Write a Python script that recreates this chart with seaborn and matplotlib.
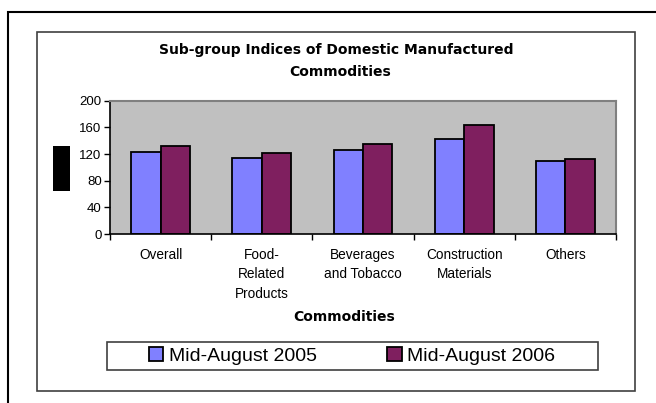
import matplotlib
matplotlib.use("Agg")
import matplotlib.pyplot as plt
import matplotlib.patches as mpatches
import seaborn as sns
import pandas as pd

categories = ["Overall", "Food-\nRelated\nProducts", "Beverages\nand Tobacco",
              "Construction\nMaterials", "Others"]
series = ["Mid-August 2005", "Mid-August 2006"]
values_2005 = [123.5, 114.5, 126, 143, 109.5]
values_2006 = [132, 121, 135, 163.5, 112.5]
yticks = [0, 40, 80, 120, 160, 200]

df = pd.DataFrame({
    "Commodity": categories * 2,
    "Period": [series[0]] * 5 + [series[1]] * 5,
    "Index": values_2005 + values_2006,
})

sns.set_style("white")
plt.rcParams["font.family"] = ["Liberation Sans", "DejaVu Sans"]
plt.rcParams["text.color"] = "black"
plt.rcParams["xtick.labelcolor"] = "black"
plt.rcParams["ytick.labelcolor"] = "black"

W, H = 656, 403
fig = plt.figure(figsize=(W / 100, H / 100), dpi=100)
ax = fig.add_axes([110 / W, 1 - 234 / H, 506 / W, 133.3 / H])

sns.barplot(
    data=df, x="Commodity", y="Index", hue="Period",
    palette=["#8080FF", "#7F1F5F"], width=0.58,
    edgecolor="black", linewidth=1.3, saturation=1, ax=ax,
)
ax.set_facecolor("#C0C0C0")
ax.set_ylim(0, 200)
ax.set_xlim(-0.5, len(categories) - 0.5)
ax.set_yticks(yticks)
ax.set_yticklabels([str(v) for v in yticks], fontsize=9.5)
ax.tick_params(axis="y", length=4, width=1, color="black", left=True, pad=2)
ax.tick_params(axis="x", which="major", length=0, pad=10)
ax.set_xticks([i + 0.5 for i in range(-1, len(categories))], minor=True)
ax.tick_params(axis="x", which="minor", length=4, width=1, color="black", bottom=True)
for lab in ax.get_xticklabels():
    lab.set_fontsize(9.8)
    lab.set_linespacing(1.5)
    lab.set_verticalalignment("top")
ax.set_xlabel("")
ax.set_ylabel("")
for side in ["left", "bottom"]:
    ax.spines[side].set_color("black")
    ax.spines[side].set_linewidth(1.2)
for side in ["top", "right"]:
    ax.spines[side].set_color("#808080")
    ax.spines[side].set_linewidth(1.5)
ax.get_legend().remove()

# titles
title_font = dict(family="DejaVu Sans", fontsize=10, fontweight="bold", color="black")
fig.text(336 / W, 1 - 50 / H, "Sub-group Indices of Domestic Manufactured",
         ha="center", va="center", **title_font)
fig.text(340 / W, 1 - 72 / H, "Commodities",
         ha="center", va="center", **title_font)
fig.text(344 / W, 1 - 317 / H, "Commodities",
         ha="center", va="center", **title_font)

# legend (frame drawn separately to match the wide box)
handles = [mpatches.Patch(facecolor=c, edgecolor="black", linewidth=1.3)
           for c in ["#8080FF", "#7F1F5F"]]
fig.legend(handles, series, loc="center",
           bbox_to_anchor=(352 / W, 1 - 356 / H), ncol=2, fontsize=14,
           frameon=False, handlelength=0.75, handleheight=0.75,
           handletextpad=0.3, columnspacing=3.6, borderpad=0.1,
           labelcolor="black")
fig.patches.append(mpatches.Rectangle((107 / W, 1 - 370 / H), 491 / W, 28 / H,
                                      transform=fig.transFigure, fill=False,
                                      edgecolor="#404040", linewidth=1.2))

# outer and inner frames
fig.patches.append(mpatches.Rectangle((8 / W, -0.05), 1.0, 1 - 12 / H + 0.05,
                                      transform=fig.transFigure, fill=False,
                                      edgecolor="black", linewidth=1.5))
fig.patches.append(mpatches.Rectangle((37 / W, 1 - 391 / H), 598 / W, 359 / H,
                                      transform=fig.transFigure, fill=False,
                                      edgecolor="#404040", linewidth=1.2))
# redacted axis title block
fig.patches.append(mpatches.Rectangle((53 / W, 1 - 191 / H), 17 / W, 45 / H,
                                      transform=fig.transFigure,
                                      facecolor="black", edgecolor="none"))

fig.savefig("out.png", dpi=100)
